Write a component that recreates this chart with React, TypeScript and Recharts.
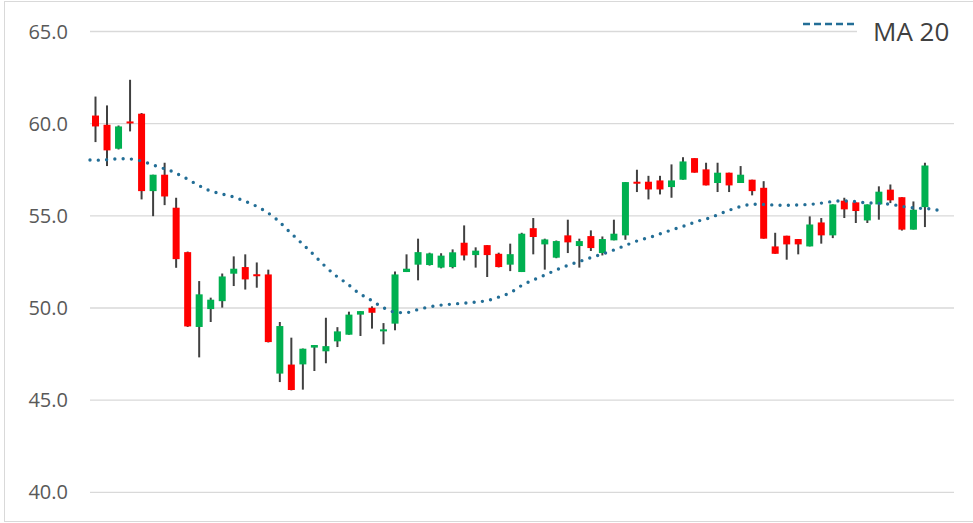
import React from 'react'
import { ComposedChart, Bar, Line, XAxis, YAxis, CartesianGrid } from 'recharts'

// daily OHLC
const opens = [
  60.44, 59.94, 58.64, 60.12, 60.54, 56.34, 57.23, 55.44, 53.03, 48.97,
  49.94, 50.37, 51.86, 52.22, 51.83, 51.82, 46.44, 46.93, 46.94, 47.85,
  47.65, 48.19, 48.55, 49.64, 50.01, 48.73, 49.15, 51.95, 52.35, 52.33,
  52.19, 52.22, 53.54, 52.87, 53.41, 52.94, 52.35, 51.95, 54.33, 53.45,
  52.73, 53.94, 53.36, 53.9, 52.98, 53.67, 53.94, 56.85, 56.85, 56.92,
  56.56, 56.96, 58.13, 57.52, 56.78, 57.34, 56.78, 56.96, 56.52, 53.34,
  53.92, 53.74, 53.34, 54.64, 53.94, 55.82, 55.73, 54.75, 55.62, 56.42,
  56.01, 54.25, 55.47,
]
const highs = [
  61.47, 60.99, 59.9, 62.38, 60.58, 57.23, 57.88, 55.98, 53.06, 51.46,
  50.56, 51.87, 52.8, 52.91, 52.47, 52.08, 49.24, 48.39, 47.8, 47.99,
  49.47, 48.96, 49.8, 49.83, 50.09, 49.18, 51.98, 52.91, 53.76, 53.0,
  52.97, 53.18, 54.48, 53.29, 53.41, 53.0, 53.49, 54.08, 54.88, 53.76,
  53.66, 54.79, 53.76, 54.21, 53.88, 54.79, 56.83, 57.5, 57.17, 57.17,
  57.79, 58.18, 58.13, 57.88, 57.88, 57.34, 57.7, 56.96, 56.88, 54.08,
  53.92, 53.74, 54.97, 54.88, 55.62, 55.98, 55.73, 55.62, 56.6, 56.7,
  56.01, 55.78, 57.88,
]
const lows = [
  59.0, 57.7, 58.6, 59.58, 55.89, 54.98, 55.58, 52.18, 48.97, 47.32,
  49.24, 50.02, 51.19, 51.0, 51.1, 48.13, 45.98, 45.53, 45.57, 46.58,
  47.0, 47.88, 48.55, 48.48, 48.88, 48.03, 48.79, 51.95, 51.5, 52.3,
  52.15, 52.15, 52.58, 52.19, 51.68, 52.2, 52.0, 51.95, 52.91, 52.08,
  52.7, 52.98, 52.19, 53.09, 52.85, 53.67, 53.7, 56.29, 55.89, 56.16,
  55.98, 56.96, 57.34, 56.65, 56.29, 56.29, 56.78, 56.11, 53.76, 52.94,
  52.62, 52.91, 53.34, 53.49, 53.79, 54.88, 54.61, 54.61, 54.79, 55.69,
  54.2, 54.25, 54.39,
]
const closes = [
  59.85, 58.55, 59.85, 60.05, 56.34, 57.23, 56.05, 52.65, 49.0, 50.74,
  50.45, 51.71, 52.13, 51.55, 51.78, 48.15, 49.02, 45.55, 47.79, 47.99,
  47.93, 48.73, 49.64, 49.83, 49.74, 48.84, 51.82, 52.13, 53.03, 52.96,
  52.84, 53.02, 52.85, 53.11, 52.87, 52.22, 52.92, 54.03, 53.85, 53.72,
  53.63, 53.56, 53.63, 53.25, 53.74, 54.03, 56.83, 56.76, 56.43, 56.43,
  56.92, 57.95, 57.34, 56.65, 57.34, 56.65, 57.23, 56.34, 53.76, 52.94,
  53.45, 53.45, 54.53, 53.94, 55.62, 55.35, 55.26, 55.62, 56.31, 55.84,
  54.25, 55.33, 57.73,
]
const ma20 = [
  58.03, 58.02, 58.08, 58.1, 58.03, 57.85, 57.63, 57.42, 57.11, 56.76,
  56.43, 56.23, 56.08, 55.86, 55.6, 55.26, 54.8, 54.19, 53.59, 52.99,
  52.35, 51.78, 51.33, 50.82, 50.45, 50.06, 49.79, 49.74, 49.9, 50.05,
  50.15, 50.21, 50.26, 50.32, 50.4, 50.59, 50.83, 51.23, 51.53, 51.8,
  52.08, 52.33, 52.54, 52.75, 52.95, 53.18, 53.43, 53.67, 53.84, 54.06,
  54.27, 54.47, 54.7, 54.87, 55.12, 55.36, 55.55, 55.63, 55.61, 55.57,
  55.58, 55.6, 55.64, 55.72, 55.8, 55.8, 55.73, 55.69, 55.66, 55.58,
  55.47, 55.41, 55.37, 55.26,
]
const yTicks = [40, 45, 50, 55, 60, 65]
const slots = 75

const data = Array.from({ length: slots }, (_, i) => ({
  i,
  range: i < opens.length ? [lows[i], highs[i]] : null,
  open: opens[i],
  high: highs[i],
  low: lows[i],
  close: closes[i],
  ma: i < ma20.length ? ma20[i] : null,
}))

const Candle = (props: any) => {
  const { x, y, width, height, payload } = props
  if (!payload || payload.open == null) return null
  const { open, close, high, low } = payload
  const top = Math.min(y, y + height)
  const h = Math.abs(height)
  const ppu = h / (high - low)
  const cx = x + width / 2
  const bodyTop = top + (high - Math.max(open, close)) * ppu
  const bodyH = Math.max(Math.abs(open - close) * ppu, 2)
  const color = close >= open ? '#00B050' : '#FF0000'
  return (
    <g>
      <line x1={cx} x2={cx} y1={top} y2={top + h} stroke="#404040" strokeWidth={2} />
      <rect x={cx - 3.5} y={bodyTop} width={7} height={bodyH} fill={color} />
    </g>
  )
}

export default function App() {
  return (
    <div
      style={{
        position: 'absolute',
        left: 0,
        top: 0,
        width: 973,
        height: 523,
        background: '#fff',
        overflow: 'hidden',
        fontFamily: '"Open Sans", sans-serif',
      }}
    >
      <div
        style={{
          position: 'absolute',
          left: 4,
          top: 1,
          width: 990,
          height: 519,
          border: '1.5px solid #d9d9d9',
        }}
      />
      <div style={{ position: 'absolute', left: 0, top: 0 }}>
        <ComposedChart
          width={973}
          height={523}
          data={data}
          margin={{ top: 31.5, right: 19, bottom: 30.7, left: 0 }}
        >
          <CartesianGrid vertical={false} stroke="#d9d9d9" strokeWidth={1.3} />
          <XAxis dataKey="i" type="number" domain={[-0.5, slots - 0.5]} hide />
          <XAxis xAxisId="ma" dataKey="i" type="number" domain={[0, slots - 1]} hide />
          <YAxis
            domain={[40, 65]}
            ticks={yTicks}
            interval={0}
            width={90}
            axisLine={false}
            tickLine={false}
            tickSize={0}
            tickMargin={22}
            tickFormatter={(v: number) => v.toFixed(1)}
            tick={{ fill: '#595959', fontSize: 20, fontFamily: '"Open Sans", sans-serif' }}
          />
          <Bar dataKey="range" shape={Candle} barSize={7} isAnimationActive={false} />
          <Line
            xAxisId="ma"
            dataKey="ma"
            type="monotone"
            stroke="#236E96"
            strokeWidth={3.4}
            strokeDasharray="0 8.3"
            strokeLinecap="round"
            dot={false}
            activeDot={false}
            isAnimationActive={false}
          />
        </ComposedChart>
      </div>
      <svg
        width={973}
        height={523}
        style={{ position: 'absolute', left: 0, top: 0, pointerEvents: 'none' }}
      >
        <rect x={857} y={14} width={100} height={32} fill="#fff" />
        <line x1={803} x2={856} y1={24} y2={24} stroke="#236E96" strokeWidth={2.5} strokeDasharray="7 4" />
        <text x={873} y={41} fontSize={26} fill="#404040" fontFamily='"Open Sans", sans-serif'>
          MA 20
        </text>
      </svg>
    </div>
  )
}
